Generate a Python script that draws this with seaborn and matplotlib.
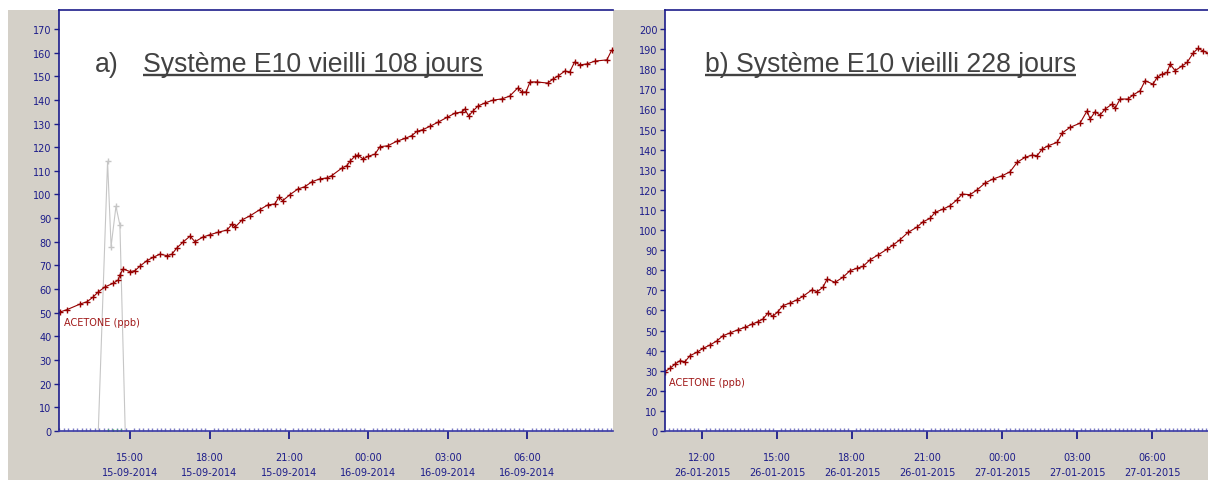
import matplotlib
matplotlib.use("Agg")
import matplotlib.pyplot as plt
import matplotlib.dates as mdates
from matplotlib.patches import Rectangle
from matplotlib.lines import Line2D
import seaborn as sns
import pandas as pd

# ---- panel a) : E10 system aged 108 days (15/16-09-2014) ----
a_start_day = "2014-09-15"
a_clock = ["12:21", "12:37", "13:07", "13:23", "13:36", "13:48", "14:03", "14:21",
           "14:33", "14:37", "14:44", "15:00", "15:11", "15:23", "15:38", "15:52",
           "16:08", "16:24", "16:35", "16:46", "17:00", "17:16", "17:27", "17:45",
           "18:01", "18:19", "18:40", "18:51", "18:58", "19:14", "19:32", "19:54",
           "20:12", "20:28", "20:37", "20:46", "21:02", "21:20", "21:36", "21:52",
           "22:10", "22:26", "22:37", "23:00", "23:11", "23:18", "23:29", "23:36",
           "23:48", "23:59", "00:15", "00:26", "00:44", "01:04", "01:23", "01:38",
           "01:50", "02:03", "02:19", "02:37", "02:58", "03:16", "03:32", "03:38",
           "03:47", "03:57", "04:08", "04:24", "04:42", "05:02", "05:20", "05:38",
           "05:48", "05:57", "06:06", "06:21", "06:46", "06:58", "07:09", "07:25",
           "07:36", "07:47", "07:59", "08:15", "08:33", "09:00", "09:11"]
a_acetone = [50.3, 51.3, 53.7, 54.7, 56.6, 58.8, 60.9, 62.4,
             63.8, 66.0, 68.5, 67.4, 67.8, 69.8, 72.0, 73.4,
             74.8, 74.1, 74.8, 77.4, 79.9, 82.4, 80.0, 82.0,
             83.0, 84.0, 85.0, 87.5, 86.2, 89.3, 91.0, 93.6,
             95.6, 96.0, 98.9, 97.4, 99.9, 102.3, 103.3, 105.4,
             106.6, 107.0, 108.0, 111.2, 112.2, 114.0, 116.1, 116.7,
             115.0, 116.1, 117.1, 120.2, 120.6, 122.5, 123.7, 124.9,
             126.7, 127.4, 128.8, 130.5, 132.6, 134.4, 134.9, 136.1,
             133.2, 135.3, 137.4, 138.7, 139.9, 140.4, 141.6, 145.0,
             143.3, 143.3, 147.6, 147.6, 147.1, 148.8, 150.0, 152.2,
             151.8, 156.0, 154.8, 155.2, 156.4, 156.9, 161.0]

# secondary trace (grey) with its short burst
a_grey_clock = ["13:48", "14:09", "14:17", "14:28", "14:37", "14:49"]
a_grey = [0, 114, 78, 95, 87, 0]
# third trace (green), flat at zero
a_green_clock = ["14:10", "14:22", "14:31", "14:40"]
a_green = [0, 0, 0, 0]

# ---- panel b) : E10 system aged 228 days (26/27-01-2015) ----
b_start_day = "2015-01-26"
b_clock = ["10:31", "10:43", "10:55", "11:07", "11:19", "11:31", "11:48", "12:02",
           "12:19", "12:36", "12:50", "13:07", "13:26", "13:43", "14:00", "14:14",
           "14:26", "14:38", "14:50", "15:02", "15:14", "15:31", "15:48", "16:02",
           "16:24", "16:36", "16:50", "17:00", "17:19", "17:38", "17:55", "18:12",
           "18:26", "18:43", "19:02", "19:24", "19:38", "19:55", "20:14", "20:36",
           "20:50", "21:07", "21:19", "21:38", "21:55", "22:12", "22:24", "22:43",
           "23:00", "23:19", "23:38", "00:00", "00:19", "00:36", "00:55", "01:12",
           "01:24", "01:36", "01:50", "02:12", "02:24", "02:43", "03:07", "03:24",
           "03:31", "03:43", "03:55", "04:07", "04:24", "04:31", "04:43", "05:02",
           "05:14", "05:31", "05:43", "06:02", "06:12", "06:24", "06:36", "06:43",
           "06:55", "07:12", "07:24", "07:38", "07:50", "08:02", "08:14"]
b_acetone = [29.5, 31.2, 33.3, 35.0, 34.5, 37.5, 39.2, 41.1,
             42.8, 44.9, 47.4, 48.8, 50.4, 51.6, 53.2, 54.4,
             55.7, 58.7, 57.1, 59.4, 62.4, 63.7, 65.3, 67.0,
             70.3, 69.3, 71.5, 75.6, 74.0, 76.5, 79.8, 81.0,
             81.9, 85.2, 87.6, 90.5, 92.5, 95.2, 98.8, 101.5,
             104.1, 105.8, 108.8, 110.4, 112.1, 115.1, 117.9, 117.6,
             120.0, 123.4, 125.4, 127.0, 129.0, 133.7, 136.2, 137.3,
             137.0, 140.3, 141.9, 143.6, 148.3, 151.1, 153.2, 159.4,
             155.2, 158.9, 157.2, 160.2, 162.7, 160.5, 165.2, 165.2,
             167.2, 169.3, 174.3, 172.6, 176.0, 177.6, 178.4, 182.6,
             179.3, 181.7, 183.4, 188.0, 190.4, 189.2, 188.0]

a_xlim = ("2014-09-15 12:19", "2014-09-16 09:14")
b_xlim = ("2015-01-26 10:31", "2015-01-27 08:14")
a_xticks = ["15:00", "18:00", "21:00", "00:00", "03:00", "06:00"]
b_xticks = ["12:00", "15:00", "18:00", "21:00", "00:00", "03:00", "06:00"]
a_ylim = (0, 178)
b_ylim = (0, 209.5)
a_yticks = list(range(0, 171, 10))
b_yticks = list(range(0, 201, 10))
a_prefix = "a)"
a_title = "Système E10 vieilli 108 jours"
b_title = "b) Système E10 vieilli 228 jours"
series_label = "ACETONE (ppb)"


def to_stamps(day, clock):
    """Turn HH:MM readings into timestamps, rolling over at midnight."""
    stamps, d, prev = [], pd.Timestamp(day), None
    for c in clock:
        t = pd.Timestamp(f"{d.date()} {c}")
        if prev is not None and t < prev:
            d += pd.Timedelta(days=1)
            t += pd.Timedelta(days=1)
        stamps.append(t)
        prev = t
    return stamps


sns.set_style("white")
plt.rcParams["font.family"] = ["DejaVu Sans"]

W, H = 1208, 481
NAVY = "#1c1c8a"
RED = "#960000"
GREY_TRACE = "#c6c6c6"
TITLE_GREY = "#424242"
PANEL_GREY = "#d4d0c8"

fig = plt.figure(figsize=(W / 100, H / 100), dpi=100, facecolor="white")
fig.patches.append(Rectangle((8 / W, 0), 1 - 8 / W, (H - 11) / H,
                             transform=fig.transFigure, facecolor=PANEL_GREY,
                             edgecolor="none", zorder=-5))

ax_a = fig.add_axes([59 / W, 1 - 432 / H, (613 - 59) / W, (432 - 11) / H])
ax_b = fig.add_axes([665 / W, 1 - 432 / H, (W - 665) / W, (432 - 11) / H])

a_t = to_stamps(a_start_day, a_clock)
b_t = to_stamps(b_start_day, b_clock)
a_grey_t = to_stamps(a_start_day, a_grey_clock)
a_green_t = to_stamps(a_start_day, a_green_clock)

line_kw = dict(marker="+", markersize=5, markeredgewidth=1.0, linewidth=0.8)

sns.lineplot(x=a_grey_t, y=a_grey, ax=ax_a, color=GREY_TRACE,
             markeredgecolor=GREY_TRACE, markevery=[1, 2, 3, 4], **line_kw)
sns.lineplot(x=a_green_t, y=a_green, ax=ax_a, color="#33cc33", linewidth=0,
             marker="|", markersize=3, markeredgewidth=1.0,
             markeredgecolor="#33cc33")
sns.lineplot(x=a_t, y=a_acetone, ax=ax_a, color=RED, markeredgecolor=RED,
             **line_kw)
sns.lineplot(x=b_t, y=b_acetone, ax=ax_b, color=RED, markeredgecolor=RED,
             **line_kw)

panels = [(ax_a, a_t, a_acetone, a_xlim, a_ylim, a_yticks, a_start_day, a_xticks),
          (ax_b, b_t, b_acetone, b_xlim, b_ylim, b_yticks, b_start_day, b_xticks)]
for ax, t, v, xl, yl, yt, day, xt in panels:
    ax.set_facecolor("white")
    ax.set_xlim(pd.Timestamp(xl[0]), pd.Timestamp(xl[1]))
    ax.set_ylim(*yl)
    ax.set_yticks(yt)
    ax.set_xticks(to_stamps(day, xt))
    ax.set_xlabel("")
    ax.set_ylabel("")
    ax.grid(False)
    ax.xaxis.set_major_formatter(mdates.DateFormatter("%H:%M\n%d-%m-%Y"))
    ax.xaxis.set_minor_locator(mdates.MinuteLocator(byminute=range(0, 60, 10)))
    ax.tick_params(axis="x", which="major", direction="out", length=6, width=1.3,
                   color=NAVY, labelcolor=NAVY, labelsize=7, pad=9, bottom=True)
    ax.tick_params(axis="x", which="minor", direction="in", length=2.5, width=1,
                   color="#7c7cc4", bottom=True)
    ax.tick_params(axis="y", which="major", direction="out", length=3.5, width=1,
                   color=NAVY, labelcolor=NAVY, labelsize=7, pad=2, left=True)
    for lab in ax.get_xticklabels():
        lab.set_linespacing(1.65)
    for side in ("left", "top", "bottom"):
        ax.spines[side].set_visible(True)
        ax.spines[side].set_color(NAVY)
        ax.spines[side].set_linewidth(1.2)
    ax.spines["bottom"].set_color("#3a3aa6")
    ax.spines["bottom"].set_linestyle((0, (3, 1)))
    ax.spines["right"].set_visible(False)
    ax.annotate(series_label, xy=(t[0], v[0]), xytext=(4, -10),
                textcoords="offset pixels", color="#a01818", fontsize=7,
                ha="left", va="center", annotation_clip=False)

# Panel titles, underlined
title_kw = dict(fontsize=19.2, color=TITLE_GREY, va="baseline", ha="left",
                family=["Liberation Sans", "DejaVu Sans"])
base_y = 1 - 72 / H
fig.text(95 / W, base_y, a_prefix, **title_kw)
t_a = fig.text(143 / W, base_y, a_title, **title_kw)
t_b = fig.text(705 / W, base_y, b_title, **title_kw)

fig.canvas.draw()
renderer = fig.canvas.get_renderer()
for txt in (t_a, t_b):
    bb = txt.get_window_extent(renderer)
    uy = (H - 75.5) / H
    fig.lines.append(Line2D([bb.x0 / W, bb.x1 / W], [uy, uy],
                            transform=fig.transFigure, color=TITLE_GREY,
                            linewidth=1.7, solid_capstyle="butt"))

fig.savefig("out.png", dpi=100, facecolor="white")
